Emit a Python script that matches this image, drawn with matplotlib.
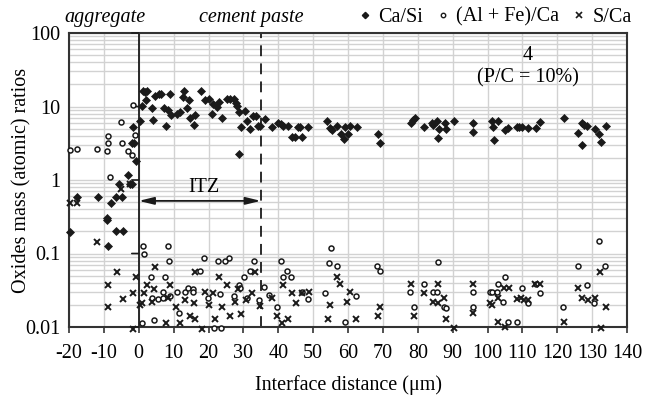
import matplotlib
matplotlib.use("Agg")
import matplotlib.pyplot as plt
from matplotlib.lines import Line2D
from matplotlib.ticker import LogLocator, FixedLocator
import matplotlib.transforms as mtransforms

plt.rcParams['font.family'] = ['Liberation Serif', 'DejaVu Serif']

# ---------------- data ----------------
casi_x = [-19.8, -17.8, -11.8, -9.2, -9.0, -8.9, -8.0, -6.6, -6.4, -4.9, -4.6, -5.7, -3.1, -2.4, -2.0,
          -1.8, -1.4, -0.9, -1.7,
          0.3, 0.8, 1.2, 1.8, 2.3, 2.0, 3.7, 4.2, 4.7, 5.7, 6.5, 7.7, 7.2, 8.9, 8.3, 9.2, 10.9, 11.8,
          12.9, 12.6, 14.3, 13.8, 14.6, 16.1, 15.8, 17.8, 19.0, 20.1, 21.2, 20.9, 22.4, 22.9, 23.8,
          25.2, 26.2, 27.2, 27.8, 28.2, 28.7, 29.2, 28.7, 30.4, 31.0, 31.8, 32.8, 33.5, 34.1, 34.7,
          36.1, 38.1, 39.9, 40.7, 41.3, 42.7, 43.9, 44.7, 46.7, 45.6, 46.1, 48.5, 53.9, 54.8, 55.3,
          56.8, 57.9, 59.0, 60.5, 58.8, 59.9, 62.5, 68.5, 69.1, 78.0, 78.6, 79.1, 81.7, 84.0, 84.3,
          85.4, 86.0, 85.7, 87.7, 88.0, 90.3, 95.8, 95.8, 101.2, 103.0, 101.5, 102.0, 105.0, 105.8,
          108.4, 109.0, 109.8, 111.5, 113.9, 115.0, 121.9, 127.0, 127.6, 128.5, 125.9, 127.0, 130.8,
          131.9, 132.5, 133.9]
casi_y = [0.195, 0.59, 0.59, 0.29, 0.30, 0.125, 0.49, 0.59, 0.2, 0.59, 0.2, 0.88, 1.17, 0.88, 0.88,
          3.2, 3.2, 1.8, 5.3,
          6.3, 10.2, 16.3, 15.8, 16.3, 12.4, 9.6, 6.5, 14.0, 14.6, 14.8, 5.4, 9.6, 14.8, 9.0, 7.7, 8.0, 8.4,
          16.3, 13.5, 12.4, 9.6, 7.0, 7.7, 5.6, 16.0, 12.2, 12.6, 10.8, 7.9, 10.0, 11.5, 6.9,
          12.8, 12.8, 12.8, 11.3, 10.2, 8.4, 5.3, 2.25, 8.7, 6.4, 5.0, 7.4, 7.4, 5.4, 5.4,
          6.7, 5.3, 6.0, 5.8, 5.4, 5.4, 3.9, 3.9, 3.9, 5.3, 5.3, 5.3, 6.3, 5.1, 4.8,
          5.4, 4.2, 5.3, 5.4, 3.6, 4.2, 5.3, 4.2, 3.2, 6.0, 6.5, 7.0, 5.3, 6.0, 5.6,
          6.3, 4.9, 3.7, 6.0, 4.9, 6.3, 6.0, 4.5, 6.3, 6.3, 5.3, 3.5, 4.8, 5.1,
          5.3, 5.3, 5.3, 5.1, 5.1, 6.2, 7.0, 6.0, 5.6, 5.4, 4.4, 3.0, 4.9,
          4.2, 3.3, 5.4]

alfe_x = [-19.8, -17.8, -12.0, -9.2, -8.9, -8.9, -8.3, -5.2, -4.9, -3.2, -2.0, -1.1, -1.7,
          1.1, 1.4, 8.3, 8.6, 18.6, 22.7, 24.7, 25.9, 33.0, 40.7, 42.4, 41.3, 43.6, 3.4, 7.5, 17.5,
          32.0, 6.9, 10.9, 13.2, 14.1, 15.5, 15.5, 23.2, 27.2, 28.7, 29.0, 30.1, 31.0, 34.4, 35.8,
          37.3, 39.6, 46.8, 48.5, 53.3, 0.9, 4.3, 11.5, 21.5, 23.5, 3.7, 5.5, 6.9, 8.9, 19.8, 55.0,
          54.6, 56.8, 59.0, 62.2, 68.2, 69.1, 85.7, 77.7, 81.7, 84.3, 85.4, 78.9, 87.6, 88.0, 95.8,
          95.8, 100.6, 101.2, 102.7, 103.0, 105.0, 104.5, 109.8, 115.0, 111.5, 105.8, 108.4, 121.6,
          125.9, 131.9, 133.6, 128.5, 130.5, 113.9]
alfe_y = [2.55, 2.6, 2.6, 2.5, 4.0, 3.2, 1.1, 6.2, 3.2, 2.5, 2.2, 4.1, 10.5,
          0.126, 0.10, 0.126, 0.079, 0.087, 0.079, 0.079, 0.087, 0.079, 0.079, 0.058, 0.048, 0.048, 0.048, 0.048, 0.058,
          0.058, 0.030, 0.030, 0.030, 0.034, 0.033, 0.030, 0.028, 0.026, 0.037, 0.034, 0.048, 0.025, 0.023, 0.035,
          0.027, 0.019, 0.030, 0.024, 0.029, 0.0114, 0.0125, 0.0155, 0.0098, 0.0098, 0.025, 0.024, 0.025, 0.026, 0.025, 0.12,
          0.074, 0.068, 0.0117, 0.026, 0.068, 0.058, 0.077, 0.030, 0.039, 0.030, 0.030, 0.019, 0.019, 0.018, 0.030,
          0.019, 0.030, 0.030, 0.030, 0.039, 0.048, 0.022, 0.034, 0.029, 0.021, 0.0117, 0.0117, 0.019,
          0.068, 0.148, 0.068, 0.037, 0.021, 0.039]

sca_x = [-19.8, -17.8, -12.0, -6.3, -8.9, -8.9, -4.6, -1.7, -0.9, -1.7, -5.0, -2.6,
         0.3, 0.9, 1.4, 2.3, 4.6, 4.3, 3.7, 7.7, 8.9, 8.3, 10.6, 11.8, 13.2, 14.6, 16.1, 15.8, 16.1,
         18.0, 19.0, 20.1, 21.2, 22.0, 23.0, 23.8, 25.2, 26.1, 27.5, 28.4, 29.2, 30.7, 32.4, 33.3,
         34.7, 38.1, 39.5, 41.0, 41.3, 42.7, 43.9, 45.0, 46.7, 48.8, 54.2, 54.8, 56.8, 57.6, 60.5,
         59.6, 62.2, 69.1, 68.5, 78.0, 81.7, 78.9, 85.7, 84.3, 85.7, 87.4, 88.0, 90.3, 95.8, 95.8,
         100.6, 101.2, 103.0, 103.0, 105.0, 104.7, 106.1, 108.4, 109.5, 110.4, 111.5, 113.6, 115.0,
         121.9, 125.9, 127.0, 128.7, 130.8, 132.2, 133.9, 132.5]
sca_y = [0.49, 0.49, 0.143, 0.056, 0.037, 0.019, 0.024, 0.029, 0.048, 0.0095, 0.76, 0.88,
         0.020, 0.021, 0.029, 0.037, 0.066, 0.033, 0.022, 0.0114, 0.037, 0.025, 0.019, 0.0114, 0.023, 0.0142, 0.013, 0.021, 0.056,
         0.0094, 0.030, 0.020, 0.029, 0.013, 0.048, 0.019, 0.037, 0.0142, 0.022, 0.033, 0.015, 0.023, 0.029, 0.056,
         0.0195, 0.025, 0.0142, 0.0114, 0.037, 0.013, 0.029, 0.021, 0.029, 0.030, 0.013, 0.020, 0.048, 0.039, 0.030,
         0.022, 0.013, 0.019, 0.0142, 0.039, 0.029, 0.0142, 0.039, 0.022, 0.021, 0.025, 0.013, 0.0098, 0.039, 0.0155,
         0.021, 0.020, 0.025, 0.0117, 0.0101, 0.034, 0.034, 0.024, 0.025, 0.023, 0.023, 0.039, 0.039,
         0.0117, 0.034, 0.025, 0.023, 0.025, 0.056, 0.019, 0.0098]

x_ticks = list(range(-20, 141, 10))
y_ticks = [0.01, 0.1, 1, 10, 100]
y_tick_labels = ['0.01', '0.1', '1', '10', '100']
interface_x = 0
itz_end_x = 35
itz_arrow_y = 0.52

# ---------------- figure ----------------
fig = plt.figure(figsize=(6.49, 3.99), dpi=100)
ax = fig.add_axes([69/649, 1-327/399, 558/649, 294/399])

ax.set_yscale('log')
ax.set_xlim(-20, 140)
ax.set_ylim(0.01, 100)

grid_c = '#d2d2d2'
ax.xaxis.set_major_locator(FixedLocator(x_ticks))
ax.yaxis.set_major_locator(FixedLocator(y_ticks))
ax.yaxis.set_minor_locator(LogLocator(base=10, subs=range(2, 10)))
ax.set_xticklabels([str(t) for t in x_ticks])
ax.set_yticklabels(y_tick_labels)
ax.yaxis.set_minor_formatter(plt.NullFormatter())
ax.grid(True, which='major', axis='x', color=grid_c, lw=1.0)
ax.grid(True, which='both', axis='y', color=grid_c, lw=1.0)
ax.set_axisbelow(True)

ax.tick_params(axis='x', which='major', direction='out', length=4, width=1.2,
               color='#333333', labelsize=14.5, pad=8)
ax.tick_params(axis='y', which='both', length=0, labelsize=14.5, pad=6)

for s in ax.spines.values():
    s.set_color('#333333')
    s.set_linewidth(1.5)

# boundary lines
ax.axvline(interface_x, color='#1a1a1a', lw=1.3, zorder=2)
ax.axvline(itz_end_x, color='#1a1a1a', lw=1.3, ls=(0, (6, 4)), zorder=2)

# small ticks on the x=0 axis line
for yv in y_ticks:
    ax.annotate('', xy=(interface_x, yv), xytext=(-5, 0), textcoords='offset points',
                arrowprops=dict(arrowstyle='-', color='#1a1a1a', lw=1.2, shrinkA=0, shrinkB=0))

mk_c = '#1a1a1a'
ax.plot(casi_x, casi_y, ls='none', marker='D', ms=4.2, mfc=mk_c, mec=mk_c, mew=0.5,
        clip_on=False, zorder=4)
ax.plot(alfe_x, alfe_y, ls='none', marker='o', ms=3.6, mfc='white', mec=mk_c, mew=1.1,
        clip_on=False, zorder=4)
ax.plot(sca_x, sca_y, ls='none', marker='x', ms=4.6, mec=mk_c, mew=1.4,
        clip_on=False, zorder=4)

# ITZ arrow
ax.annotate('', xy=(interface_x, itz_arrow_y), xytext=(itz_end_x, itz_arrow_y),
            arrowprops=dict(arrowstyle='<|-|>,head_length=0.9,head_width=0.22',
                            color='#1a1a1a', lw=1.3, shrinkA=0, shrinkB=0), zorder=5)
ax.text(18.7, 0.78, 'ITZ', ha='center', va='center', fontsize=14.5)

ax.text(111.6, 50, '4', ha='center', va='center', fontsize=14.5)
ax.text(111.6, 24.4, '(P/C = 10%)', ha='center', va='center', fontsize=14.5)

tb = mtransforms.blended_transform_factory(ax.transData, ax.transAxes)
ax.text(-9.7, 1.054, 'aggregate', transform=tb, ha='center', va='center',
        fontsize=14.5, style='italic')
ax.text(32.2, 1.054, 'cement paste', transform=tb, ha='center', va='center',
        fontsize=14.5, style='italic')

handles = [
    Line2D([], [], ls='none', marker='D', ms=3.2, mfc=mk_c, mec=mk_c),
    Line2D([], [], ls='none', marker='o', ms=3.2, mfc='white', mec=mk_c, mew=1.0),
    Line2D([], [], ls='none', marker='x', ms=4.0, mec=mk_c, mew=1.2),
]
labels = ['Ca/Si', '(Al + Fe)/Ca', 'S/Ca']
ax.legend(handles, labels, loc='center right', bbox_to_anchor=(1.008, 1.054),
          ncol=3, frameon=False, fontsize=14.5, handlelength=0.6, handletextpad=0.35,
          columnspacing=0.7, borderpad=0, borderaxespad=0)

ax.set_xlabel('Interface distance (μm)', fontsize=14.5, labelpad=9)
ax.set_ylabel('Oxides mass (atomic) ratios', fontsize=14.5)
ax.yaxis.set_label_coords(-0.068, 0.5)

fig.savefig('out.png', dpi=100)
